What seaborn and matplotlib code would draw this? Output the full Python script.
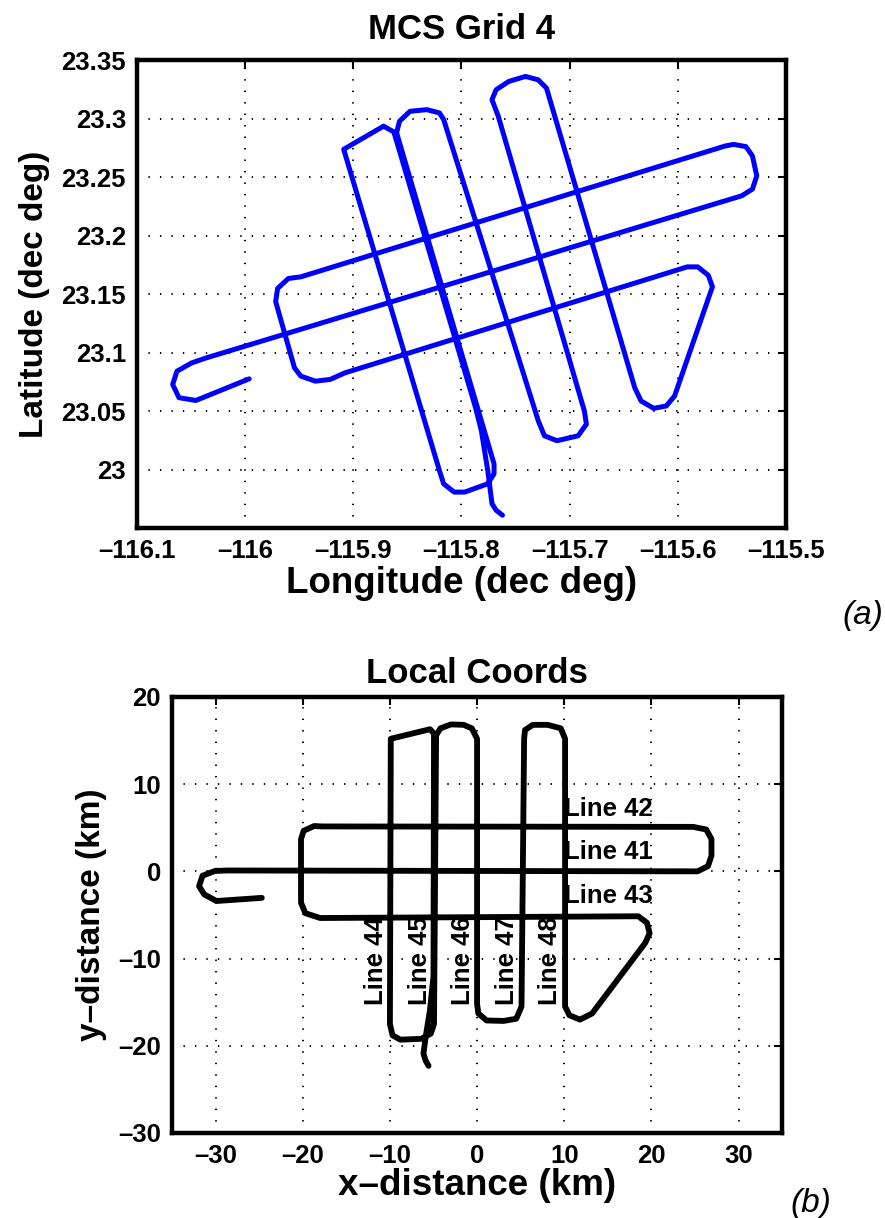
import matplotlib
matplotlib.use("Agg")
import matplotlib.pyplot as plt
import seaborn as sns
import pandas as pd

# ship track in geographic coords
lon = [-115.9963, -116.0456, -116.0612, -116.0670, -116.0631, -116.0495, -116.0360,
       -115.5408, -115.5310, -115.5270, -115.5310, -115.5370, -115.5485, -115.5563,
       -115.9485, -115.9600, -115.9700, -115.9718, -115.9544, -115.9485, -115.9350,
       -115.9214, -115.9078,
       -115.5913, -115.5816, -115.5718, -115.5680,
       -115.6030, -115.6107, -115.6223, -115.6340, -115.6398,
       -115.7214, -115.7291, -115.7408, -115.7563, -115.7680, -115.7718, -115.7660,
       -115.6864, -115.6845, -115.6922, -115.7117, -115.7233, -115.7290,
       -115.8165, -115.8204, -115.8320, -115.8476, -115.8573, -115.8600,
       -115.7699, -115.7699, -115.7757, -115.7970, -115.8068, -115.8165, -115.8204,
       -115.9089, -115.8720, -115.8625,
       -115.7870, -115.7816, -115.7757, -115.7718, -115.7680, -115.7621]
lat = [23.0775, 23.0590, 23.0614, 23.0727, 23.0840, 23.0911, 23.0954,
       23.2340, 23.2397, 23.2510, 23.2680, 23.2760, 23.2779, 23.2765,
       23.1647, 23.1633, 23.1548, 23.1435, 23.0869, 23.0798, 23.0755,
       23.0770, 23.0826,
       23.1732, 23.1732, 23.1660, 23.1562,
       23.0628, 23.0543, 23.0523, 23.0586, 23.0699,
       23.3260, 23.3331, 23.3360, 23.3317, 23.3246, 23.3161, 23.3020,
       23.0501, 23.0387, 23.0288, 23.0246, 23.0288, 23.0416,
       23.2992, 23.3048, 23.3076, 23.3062, 23.2977, 23.2878,
       23.0048, 22.9963, 22.9878, 22.9807, 22.9807, 22.9878, 22.9991,
       23.2737, 23.2935, 23.2885,
       23.0529, 23.0331, 22.9991, 22.9708, 22.9652, 22.9609]

# same track in local coords (km)
x_km = [-24.7, -29.9, -31.3, -31.9, -31.5, -30.1, -28.7,
        25.3, 26.5, 26.9, 26.9, 26.3, 24.8,
        -17.8, -18.7, -19.9, -20.2, -20.2, -19.7, -18.0,
        18.5, 19.5, 19.8, 19.3,
        13.2, 11.8, 10.6, 10.1,
        10.1, 9.6, 8.1, 6.4, 5.5, 5.4,
        5.1, 4.5, 3.05, 1.1, 0.15, 0.0,
        0.0, -0.6, -1.55, -3.0, -4.2, -4.7,
        -4.94, -5.3, -6.4, -8.8, -9.7, -10.0,
        -9.9, -5.4, -4.94,
        -5.0, -5.4, -5.9, -6.15, -5.9, -5.57]
y_km = [-3.04, -3.4, -2.65, -1.7, -0.5, 0.04, 0.1,
        0.0, 0.6, 1.8, 3.7, 4.8, 5.1,
        5.15, 5.2, 4.65, 3.7, -3.6, -4.8, -5.35,
        -5.15, -5.9, -7.1, -8.2,
        -16.3, -17.0, -16.5, -15.5,
        15.2, 16.4, 16.8, 16.8, 16.2, 15.2,
        -15.5, -16.9, -17.15, -17.1, -16.3, -15.2,
        15.2, 16.4, 16.8, 16.85, 16.4, 15.6,
        -17.5, -18.6, -19.2, -19.3, -18.8, -17.5,
        15.2, 16.3, 15.8,
        -12.0, -15.9, -19.0, -20.9, -21.7, -22.3]

h_names = ["Line 42", "Line 41", "Line 43"]
h_y = [5, 0, -5]
v_names = ["Line 44", "Line 45", "Line 46", "Line 47", "Line 48"]
v_x = [-10, -5, 0, 5, 10]

lon_ticks = [-116.1, -116.0, -115.9, -115.8, -115.7, -115.6, -115.5]
lat_ticks = [23.0, 23.05, 23.1, 23.15, 23.2, 23.25, 23.3, 23.35]
km_xticks = [-30, -20, -10, 0, 10, 20, 30]
km_yticks = [-30, -20, -10, 0, 10, 20]

sns.set_theme(style="white")
plt.rcParams["font.family"] = ["Liberation Sans", "DejaVu Sans"]
plt.rcParams["font.weight"] = "bold"
plt.rcParams["axes.titleweight"] = "bold"
plt.rcParams["axes.labelweight"] = "bold"
for key in ["text.color", "axes.labelcolor", "xtick.color", "ytick.color"]:
    plt.rcParams[key] = "black"


def fmt(v):
    return ("%g" % v).replace("-", "\u2013")


def style_axes(ax):
    for sp in ax.spines.values():
        sp.set_linewidth(3.2)
        sp.set_color("black")
    ax.grid(True, color="black", linestyle=(0, (0.7, 5.2)), linewidth=1.4)
    ax.tick_params(direction="in", length=6, width=1.5, top=True, right=True,
                   labelsize=18.5, pad=8, colors="black")


fig = plt.figure(figsize=(8.85, 12.18), dpi=100)

# panel (a)
ax1 = fig.add_axes([0.1548, 0.5665, 0.7333, 0.3842])
geo = pd.DataFrame({"lon": lon, "lat": lat})
sns.lineplot(data=geo, x="lon", y="lat", sort=False, estimator=None,
             color="#0000ff", linewidth=3.6, ax=ax1, zorder=3)
ax1.set_xlim(-116.1, -115.5)
ax1.set_ylim(22.95, 23.35)
ax1.set_xticks(lon_ticks)
ax1.set_xticklabels([fmt(v) for v in lon_ticks])
ax1.set_yticks(lat_ticks)
ax1.set_yticklabels([fmt(v) for v in lat_ticks])
style_axes(ax1)
ax1.set_title("MCS Grid 4", fontsize=25, pad=15)
ax1.set_xlabel("Longitude (dec deg)", fontsize=26.5, labelpad=2)
ax1.set_ylabel("Latitude (dec deg)", fontsize=24, labelpad=8)
fig.text(0.975, 0.495, "(a)", fontsize=24, style="italic", fontweight="normal",
         ha="center", va="center")

# panel (b)
ax2 = fig.add_axes([0.1944, 0.0698, 0.6893, 0.3580])
loc = pd.DataFrame({"x": x_km, "y": y_km})
sns.lineplot(data=loc, x="x", y="y", sort=False, estimator=None,
             color="black", linewidth=4.2, ax=ax2, zorder=3)
for name, yy in zip(h_names, h_y):
    ax2.text(10, yy + 2.2, name, fontsize=18.5, fontweight="bold",
             ha="left", va="center", zorder=2)
for name, xx in zip(v_names, v_x):
    ax2.text(xx - 1.6, -15.3, name, fontsize=18.5, fontweight="bold", rotation=90,
             ha="center", va="bottom", zorder=2)
ax2.set_xlim(-35, 35)
ax2.set_ylim(-30, 20)
ax2.set_xticks(km_xticks)
ax2.set_xticklabels([fmt(v) for v in km_xticks])
ax2.set_yticks(km_yticks)
ax2.set_yticklabels([fmt(v) for v in km_yticks])
style_axes(ax2)
ax2.set_title("Local Coords", fontsize=25, pad=10)
ax2.set_xlabel("x\u2013distance (km)", fontsize=26.5, labelpad=0)
ax2.set_ylabel("y\u2013distance (km)", fontsize=24, labelpad=8)
fig.text(0.916, 0.0115, "(b)", fontsize=24, style="italic", fontweight="normal",
         ha="center", va="center")

fig.savefig("out.png", dpi=100)
